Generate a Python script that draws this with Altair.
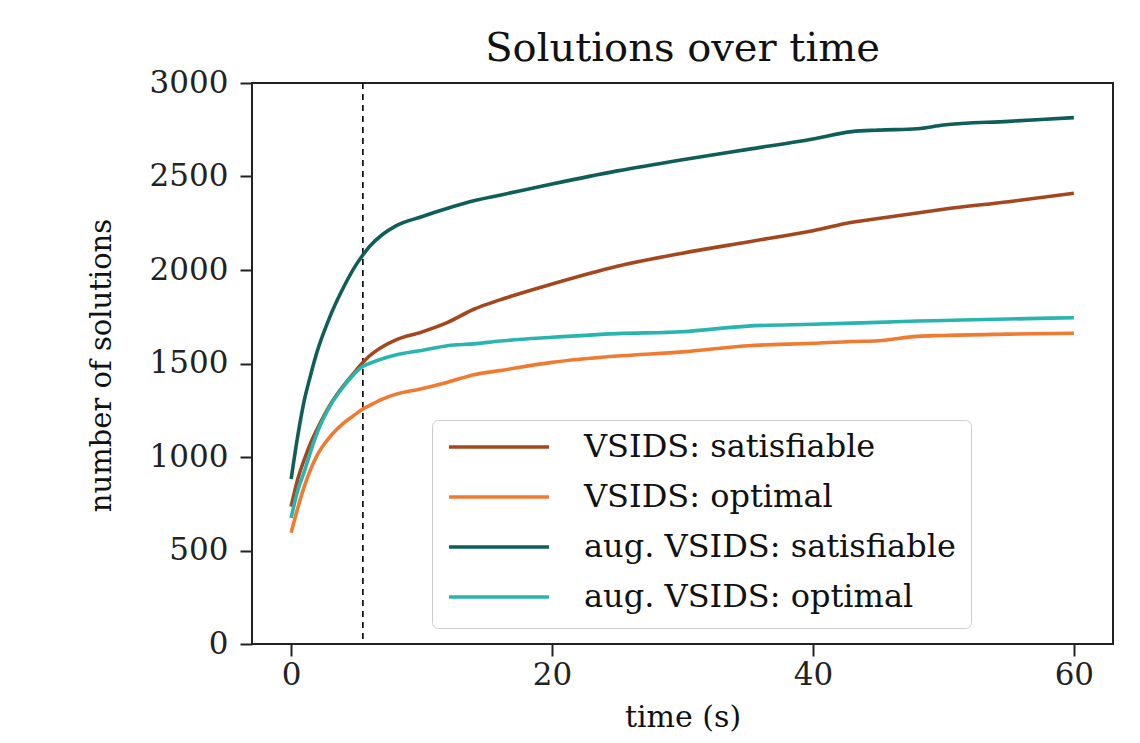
import altair as alt
import pandas as pd

# time points (s)
t = [0, 0.5, 1, 1.5, 2, 3, 4, 5, 5.5, 6, 7, 8, 10, 12, 14, 16, 20, 25, 30, 35, 40, 43, 45, 48, 50, 55, 60]

vsids_sat = [735, 880, 985, 1075, 1150, 1280, 1380, 1465, 1505, 1540, 1590, 1625, 1668, 1720, 1790, 1840, 1925,
             2020, 2090, 2150, 2210, 2255, 2275, 2305, 2325, 2365, 2410]
vsids_opt = [595, 725, 840, 935, 1010, 1110, 1180, 1232, 1257, 1275, 1310, 1335, 1365, 1400, 1440, 1462, 1506,
             1540, 1562, 1595, 1608, 1618, 1622, 1645, 1650, 1657, 1662]
aug_sat = [882, 1110, 1300, 1440, 1565, 1755, 1905, 2030, 2080, 2125, 2190, 2235, 2285, 2330, 2370, 2400, 2460,
           2530, 2590, 2645, 2700, 2740, 2748, 2755, 2775, 2795, 2815]
aug_opt = [675, 820, 920, 1030, 1130, 1275, 1375, 1455, 1485, 1500, 1525, 1545, 1570, 1595, 1605, 1620, 1640,
           1660, 1670, 1700, 1710, 1716, 1720, 1727, 1730, 1738, 1745]

series_names = ["VSIDS: satisfiable", "VSIDS: optimal", "aug. VSIDS: satisfiable", "aug. VSIDS: optimal"]
series_vals = [vsids_sat, vsids_opt, aug_sat, aug_opt]
series_colors = ["#a3471f", "#f07b30", "#0e5e5a", "#28b5af"]

x_ticks = [0, 20, 40, 60]
y_ticks = [0, 500, 1000, 1500, 2000, 2500, 3000]
cutoff = [5.5]

rows = []
for name, vals in zip(series_names, series_vals):
    for ti, v in zip(t, vals):
        rows.append({"time": ti, "solutions": v, "series": name})
df = pd.DataFrame(rows)
df_cut = pd.DataFrame({"time": cutoff})

FONT = "DejaVu Serif"

x_scale = alt.Scale(domain=[-3, 63], nice=False, zero=False)
y_scale = alt.Scale(domain=[0, 3000], nice=False)

lines = alt.Chart(df).mark_line(strokeWidth=3.6, interpolate="monotone").encode(
    x=alt.X("time:Q", scale=x_scale,
            axis=alt.Axis(values=x_ticks, title="time (s)", labelPadding=4, titleFontSize=30,
                          titleY=82, titleBaseline="alphabetic")),
    y=alt.Y("solutions:Q", scale=y_scale,
            axis=alt.Axis(values=y_ticks, format="d", title="number of solutions", labelPadding=12,
                          titleFontSize=29, titleAngle=270, titleX=-142, titleY=282, titleAlign="center",
                          titleBaseline="alphabetic")),
    color=alt.Color("series:N", scale=alt.Scale(domain=series_names, range=series_colors),
                    sort=series_names,
                    legend=alt.Legend(title=None, orient="none", legendX=180, legendY=337,
                                      symbolType="stroke", symbolSize=10000, symbolStrokeWidth=3.5,
                                      clipHeight=24, rowPadding=18, padding=15, labelOffset=33,
                                      labelFont=FONT, labelFontSize=32, labelColor="#111",
                                      labelLimit=0, fillColor="white", strokeColor="#cccccc",
                                      cornerRadius=6)),
    order=alt.Order("time:Q"),
)

rule = alt.Chart(df_cut).mark_rule(color="black", strokeWidth=1.6, strokeDash=[6, 5]).encode(
    x=alt.X("time:Q", scale=x_scale)
)

chart = alt.layer(rule, lines).properties(
    width=861, height=561,
    title=alt.TitleParams("Solutions over time", font=FONT, fontSize=40, fontWeight="normal",
                          color="#111", offset=14, dy=16),
    autosize=alt.AutoSizeParams(type="none"),
    padding={"left": 244, "top": 75, "right": 12, "bottom": 88},
).configure_axis(
    labelFont=FONT, labelFontSize=31, labelColor="#222", titleFont=FONT, titleFontWeight="normal",
    titleColor="#111", tickColor="#222", tickWidth=2, tickSize=12, domain=False, grid=False,
).configure_view(stroke="#222", strokeWidth=2)

chart.save("out.html", embed_options={"renderer": "svg", "actions": False})
